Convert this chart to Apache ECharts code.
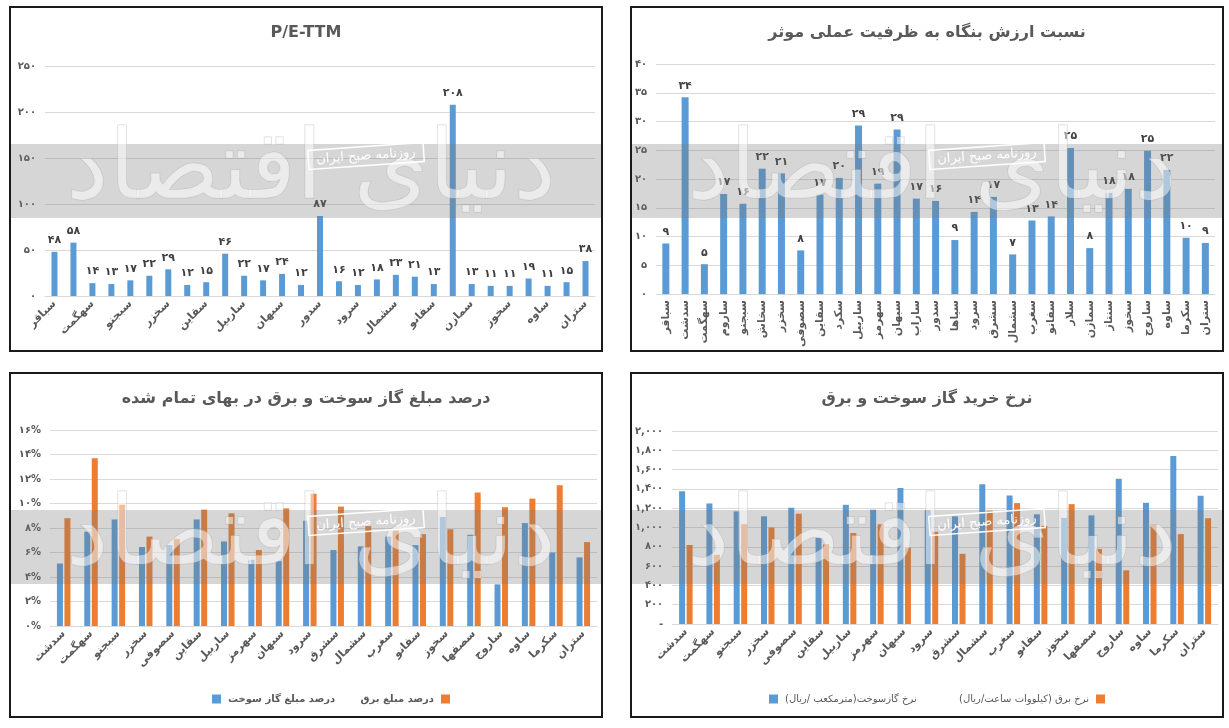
<!DOCTYPE html>
<html>
<head>
<meta charset="utf-8">
<script src="https://cdn.jsdelivr.net/npm/echarts@6/dist/echarts.min.js"></script>
<style>
  body { margin: 0; background: #fff; width: 1229px; height: 728px; overflow: hidden; }
  .panel { position: absolute; width: 594px; height: 346px; box-sizing: border-box; border: 2px solid #1a1a1a; background: #fff; }
  .panel > div { width: 590px; height: 342px; }
</style>
</head>
<body>
<div class="panel" style="left:9px;top:6px"><div id="pe"></div></div>
<div class="panel" style="left:630px;top:6px"><div id="ev"></div></div>
<div class="panel" style="left:9px;top:372px"><div id="share"></div></div>
<div class="panel" style="left:630px;top:372px"><div id="rate"></div></div>
<script>
// نمادها (بالا)
const tickers29 = ['سباقر','سدشت','سهگمت','ساروم','سبجنو','سخاش','سخزر','سصوفی','سقاین','سکرد','ساربیل','سهرمز','سبهان','ساراب','سدور','سیاها','سرود','سشرق','سشمال','سغرب','سفانو','سلار','سمازن','سنتاز','سخوز','ساروج','ساوه','سکرما','ستران'];
const peValues = [48,58,14,13,17,22,29,12,15,46,22,17,24,12,87,16,12,18,23,21,13,208,13,11,11,19,11,15,38];
const evValues = [8.8,34.2,5.2,17.4,15.7,21.8,21,7.6,17.3,20.2,29.3,19.2,28.6,16.6,16.2,9.4,14.3,16.9,6.9,12.8,13.5,25.4,8,17.6,18.3,24.9,21.6,9.8,8.9];

// نمادها (پایین)
const tickers20 = ['سدشت','سهگمت','سبجنو','سخزر','سصوفی','سقاین','ساربیل','سهرمز','سبهان','سرود','سشرق','سشمال','سغرب','سفانو','سخوز','سصفها','ساروج','ساوه','سکرما','ستران'];
const gasShare = [5.1,7.7,8.7,6.45,6.6,8.7,6.9,5.4,5.3,8.6,6.2,6.5,7.3,6.6,8.9,7.45,3.4,8.4,6.0,5.6];
const elecShare = [8.8,13.7,9.9,7.3,7.1,9.5,9.2,6.2,9.6,10.8,9.75,8.15,7.8,7.5,7.9,10.9,9.7,10.4,11.5,6.85];
const gasRate = [1375,1249,1167,1116,1205,894,1235,1184,1410,1181,1116,1447,1331,1137,1099,1126,1505,1256,1741,1328];
const elecRate = [819,717,1034,1000,1143,826,942,1034,792,956,727,1174,1253,1017,1242,778,556,1031,932,1096];

const titles = ['P/E-TTM', 'نسبت ارزش بنگاه به ظرفیت عملی موثر', 'درصد مبلغ گاز سوخت و برق در بهای تمام شده', 'نرخ خرید گاز سوخت و برق'];
const legendShare = ['درصد مبلغ گاز سوخت', 'درصد مبلغ برق'];
// RLM so the brackets stay on the right-to-left side
const legendRate = ['\u200Fنرخ گازسوخت(مترمکعب /ریال)\u200F', '\u200Fنرخ برق (کیلووات ساعت/ریال)\u200F'];

const FONT = 'DejaVu Sans';
const BLUE = '#5b9bd5';
const ORANGE = '#ed7d31';
const GRAY = '#595959';

function fa(s) {
  return String(s).replace(/\d/g, d => '۰۱۲۳۴۵۶۷۸۹'[d]);
}

function watermark() {
  return [
    { type: 'rect', z: 100, silent: true, shape: { x: 0, y: 136, width: 590, height: 74 },
      style: { fill: 'rgba(120,120,120,0.3)' } },
    { type: 'text', z: 101, silent: true, x: 300, y: 165,
      style: { text: 'دنیای اقتصاد', font: '96px ' + FONT, fill: 'rgba(255,255,255,0.5)',
        stroke: 'rgba(160,160,160,0.4)', lineWidth: 1, align: 'center', verticalAlign: 'middle' } },
    { type: 'text', z: 102, silent: true, x: 355, y: 148, rotation: 0.07,
      style: { text: 'روزنامه صبح ایران', font: '13px ' + FONT, fill: '#fff', align: 'center', verticalAlign: 'middle',
        borderColor: '#fff', borderWidth: 1.5, padding: [3, 8] } }
  ];
}

function baseOption(title, grid, cats, rotate, interval) {
  return {
    animation: false,
    textStyle: { fontFamily: FONT },
    title: { text: title, left: 'center', top: 12, textStyle: { color: GRAY, fontSize: 16, fontWeight: 'bold', fontFamily: FONT } },
    grid: grid,
    graphic: watermark(),
    xAxis: {
      type: 'category', data: cats,
      axisLine: { lineStyle: { color: '#d9d9d9' } },
      axisTick: { show: false },
      axisLabel: { rotate: rotate, interval: interval, color: GRAY, fontSize: 11, fontWeight: 'bold', margin: 6 }
    }
  };
}

function yAxis(max, step, fmt) {
  return {
    type: 'value', min: 0, max: max, interval: step,
    axisLine: { show: false }, axisTick: { show: false },
    splitLine: { lineStyle: { color: '#d9d9d9' } },
    axisLabel: { color: GRAY, fontSize: 10, fontWeight: 'bold', margin: 9, formatter: fmt }
  };
}

function valueLabel() {
  return { show: true, position: 'top', distance: 6, color: '#404040', fontSize: 11, fontWeight: 'bold',
    formatter: p => fa(Math.round(p.value)) };
}

function legendItem(name, pos, align, weight) {
  var l = { data: [name], top: 315, align: align, itemWidth: 9, itemHeight: 9, icon: 'rect',
    textStyle: { color: GRAY, fontSize: 10, fontWeight: weight, padding: [0, 2] } };
  return Object.assign(l, pos);
}

// P/E
var pe = echarts.init(document.getElementById('pe'));
var opt1 = baseOption(titles[0], { left: 34, right: 6, top: 58, bottom: 54 }, tickers29, 45, 1);
opt1.yAxis = yAxis(250, 50, v => fa(v));
opt1.series = [{ type: 'bar', data: peValues, barWidth: 6, itemStyle: { color: BLUE }, label: valueLabel() }];
pe.setOption(opt1);

// EV / capacity
var ev = echarts.init(document.getElementById('ev'));
var opt2 = baseOption(titles[1], { left: 23, right: 7, top: 56, bottom: 52 }, tickers29, 90, 0);
opt2.yAxis = yAxis(40, 5, v => fa(v));
opt2.series = [{ type: 'bar', data: evValues, barWidth: 7, itemStyle: { color: BLUE }, label: valueLabel() }];
ev.setOption(opt2);

// share of cost
var share = echarts.init(document.getElementById('share'));
var opt3 = baseOption(titles[2], { left: 39, right: 4, top: 56, bottom: 90 }, tickers20, 45, 0);
opt3.yAxis = yAxis(16, 2, v => fa(v) + '%');
opt3.legend = [
  legendItem(legendShare[0], { left: 196 }, 'left', 'bold'),
  legendItem(legendShare[1], { right: 146 }, 'right', 'bold')
];
opt3.series = [
  { name: legendShare[0], type: 'bar', data: gasShare, barWidth: 6, barGap: '25%', itemStyle: { color: BLUE } },
  { name: legendShare[1], type: 'bar', data: elecShare, barWidth: 6, itemStyle: { color: ORANGE } }
];
share.setOption(opt3);

// purchase rate
var rate = echarts.init(document.getElementById('rate'));
var opt4 = baseOption(titles[3], { left: 40, right: 4, top: 57, bottom: 92 }, tickers20, 45, 0);
opt4.yAxis = yAxis(2000, 200, v => v === 0 ? '-' : fa(v.toLocaleString('en-US')));
opt4.legend = [
  legendItem(legendRate[0], { left: 132 }, 'left', 'normal'),
  legendItem(legendRate[1], { right: 112 }, 'right', 'normal')
];
opt4.series = [
  { name: legendRate[0], type: 'bar', data: gasRate, barWidth: 6, barGap: '25%', itemStyle: { color: BLUE } },
  { name: legendRate[1], type: 'bar', data: elecRate, barWidth: 6, itemStyle: { color: ORANGE } }
];
rate.setOption(opt4);
</script>
</body>
</html>
